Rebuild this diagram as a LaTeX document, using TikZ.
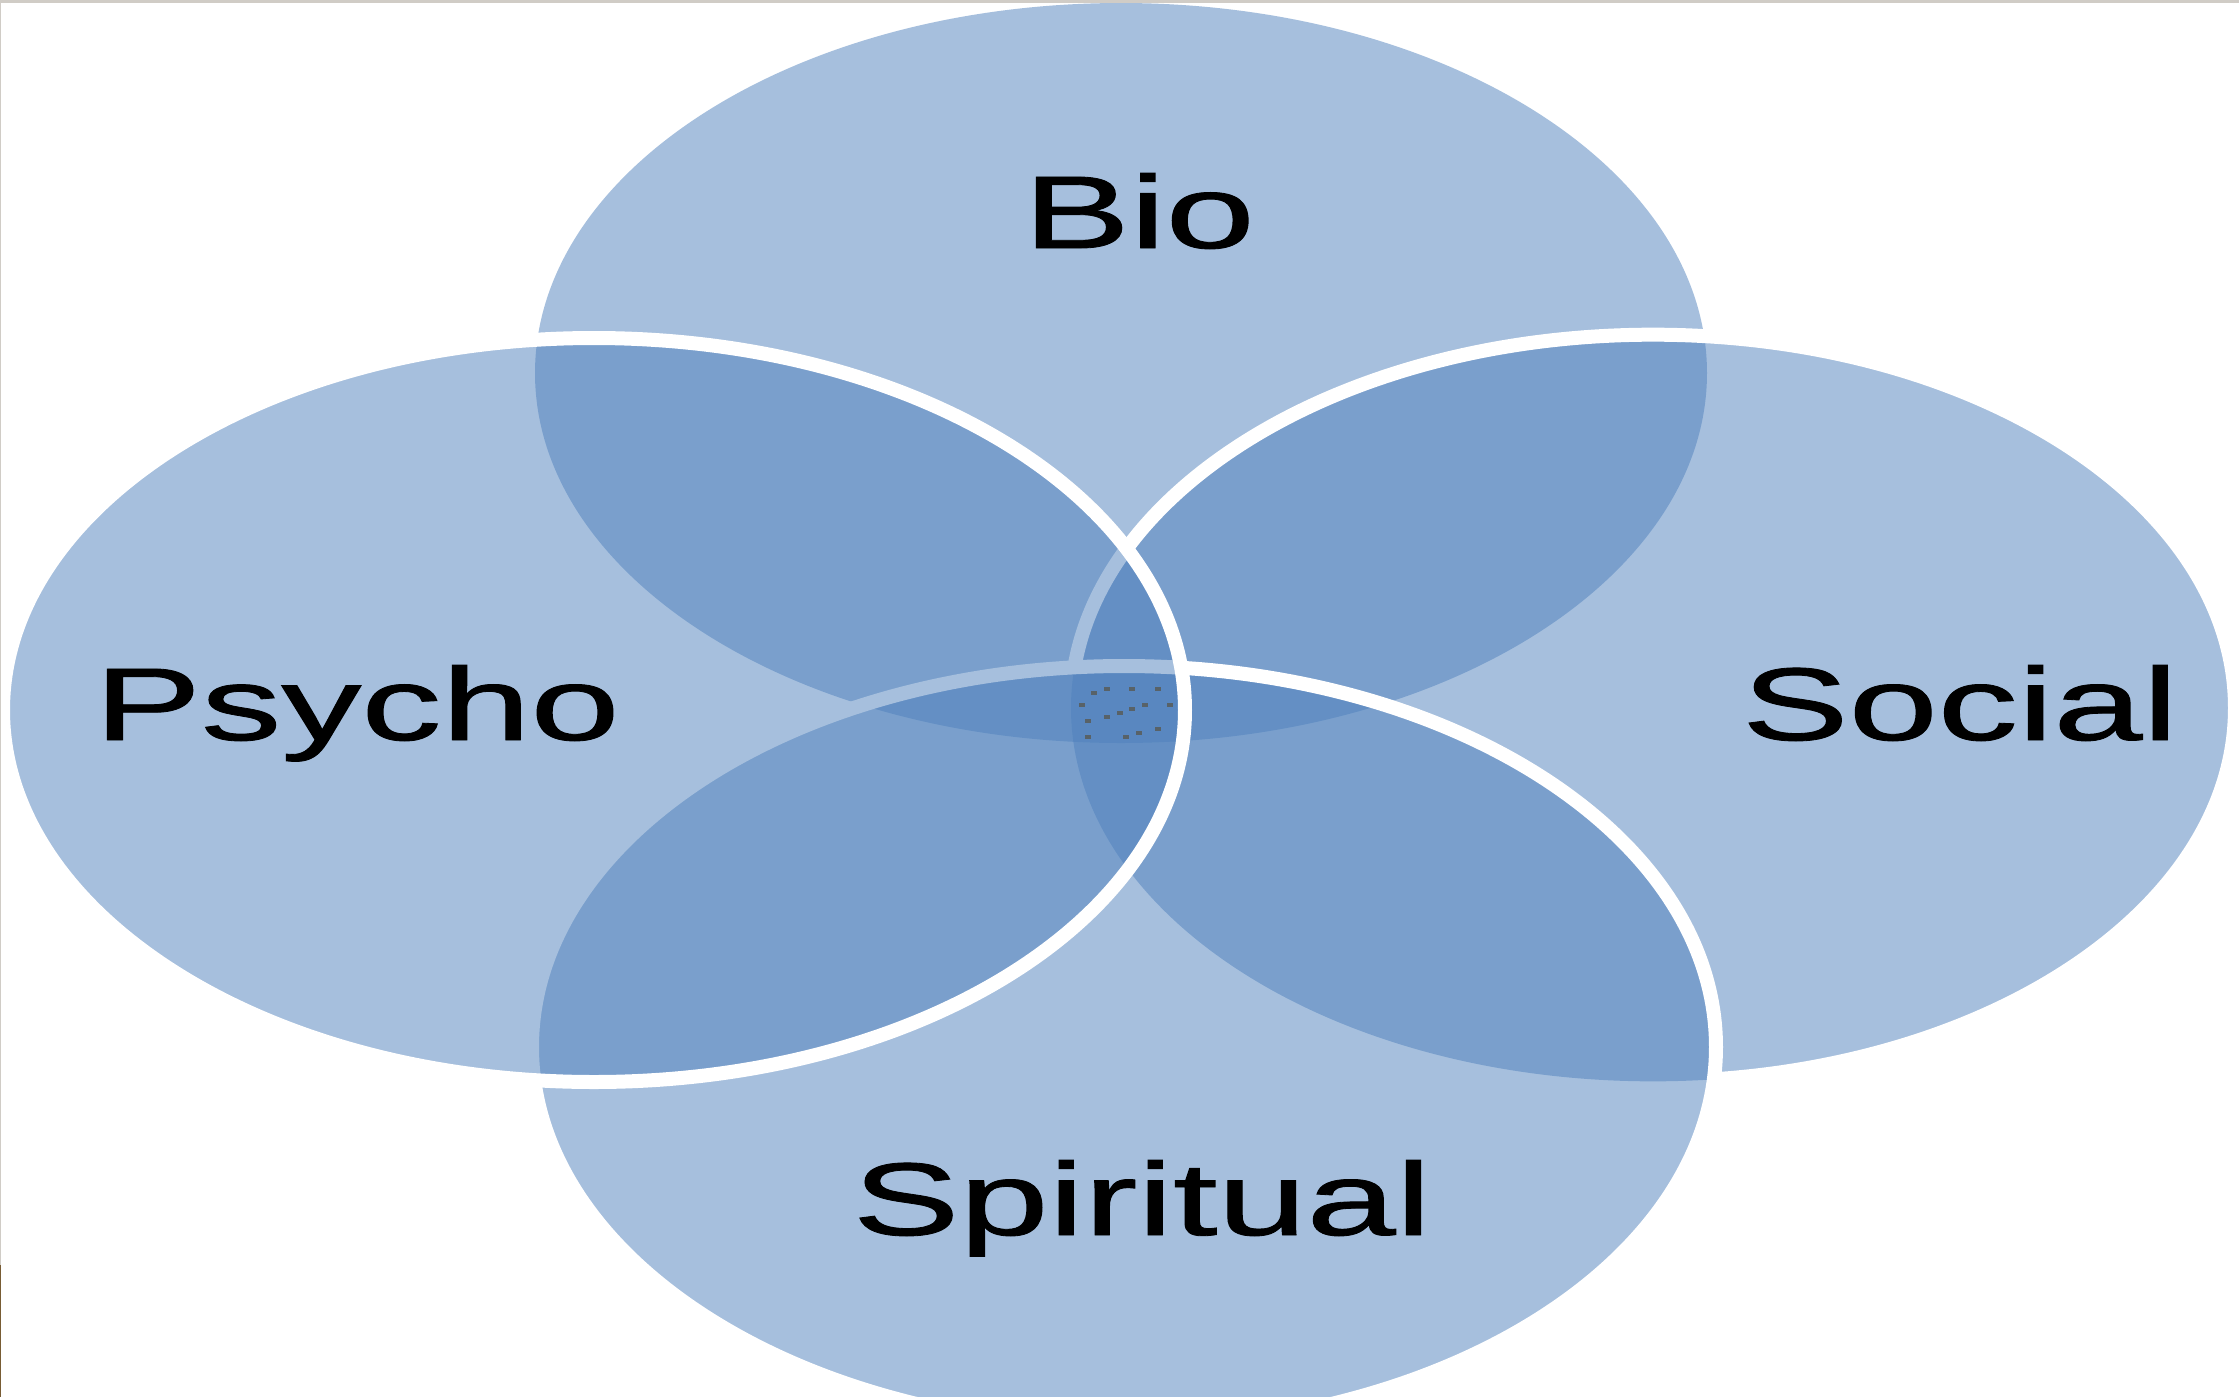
\documentclass[tikz,border=0pt]{standalone}
\usepackage{fontspec}
\setmainfont{Liberation Sans}
\newfontfamily\lblfont{Liberation Sans}[FakeBold=0.8]
\definecolor{vblue}{RGB}{79,129,189}
\definecolor{framegray}{RGB}{208,204,198}
\definecolor{framebrown}{RGB}{120,92,52}
\definecolor{dotgray}{RGB}{88,98,104}
\begin{document}
\begin{tikzpicture}[x=0.3pt,y=-0.3pt,
  blob/.style={fill=vblue,fill opacity=0.5},
  rim/.style={draw=white,line width=4.2pt},
  lbl/.style={anchor=base,font=\lblfont\fontsize{31}{36}\selectfont,xscale=1.55,inner sep=0pt,text=black},
  speck/.style={fill=dotgray}]
\useasboundingbox (0,0) rectangle (2239,1397);
\fill[white] (0,0) rectangle (2239,1397);
\begin{scope}
\clip (0,0) rectangle (2239,1397);
% Bio (top)
\path[blob] (1121,373) ellipse [x radius=175.8pt, y radius=111pt];
% Social (right)
\path[blob] (1653,708) ellipse [x radius=174.6pt, y radius=112pt];
% Spiritual (bottom)
\path[blob] (1124,1047) ellipse [x radius=177.6pt, y radius=114.3pt];
% outline of Social, hidden under Spiritual
\begin{scope}[even odd rule]
\clip (0,0) rectangle (2239,1397) (1124,1047) ellipse [x radius=177.6pt, y radius=114.3pt];
\draw[rim] (1653,708) ellipse [x radius=174.6pt, y radius=112pt];
\end{scope}
\draw[rim] (1124,1047) ellipse [x radius=177.6pt, y radius=114.3pt];
% Psycho (left)
\path[blob] (594,710) ellipse [x radius=177.3pt, y radius=111.6pt];
\draw[rim] (594,710) ellipse [x radius=177.3pt, y radius=111.6pt];
% specks in the centre
\foreach \a/\b in {1094/693,1107/689,1132/689,1158/689,1082/705,1145/705,1170/705,1132/709,1120/713,1088/721,1107/717,1158/729,1139/733,1126/737,1088/737}
  \fill[speck] (\a-3,\b-2) rectangle (\a+3,\b+2);
\end{scope}
% frame
\fill[framegray] (0,0) rectangle (2239,3);
\fill[framegray] (0,0) rectangle (1.5,1265);
\fill[framebrown] (0,1265) rectangle (1.5,1397);
% labels
\node[lbl] (bio) at (1139,248) {Bio};
\node[lbl] (psycho) at (357,740) {Psycho};
\node[lbl] (social) at (1960,740) {Social};
\node[lbl] (spiritual) at (1142,1235) {Spiritual};
\end{tikzpicture}
\end{document}
